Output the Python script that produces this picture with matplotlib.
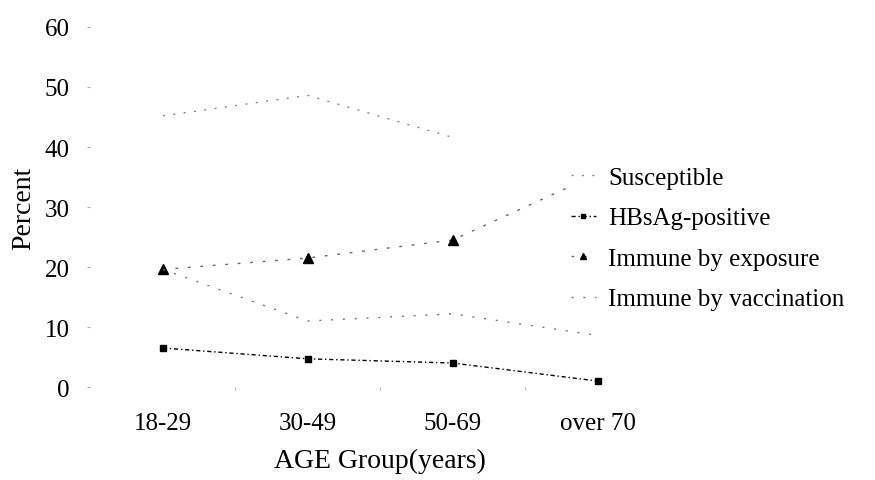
import matplotlib.pyplot as plt
import numpy as np

# values (percent)
age_groups = ['18-29', '30-49', '50-69', 'over 70']
susceptible = [45.2, 48.6, 41.6, np.nan]
hbsag_positive = [6.5, 4.7, 4.0, 1.0]
immune_exposure = [19.6, 21.5, 24.5, 35.5]
immune_vaccination = [19.6, 11.0, 12.2, 8.6]

plt.rcParams['font.family'] = ['Liberation Serif', 'DejaVu Serif']

fig = plt.figure(figsize=(8.75, 4.81), dpi=100)
ax = fig.add_axes([0.1034, 0.1933, 0.6623, 0.7485])

x = np.arange(len(age_groups))

ax.plot(x, susceptible, color='#888888', lw=1.0, linestyle=(0, (1.5, 6)),
        label='Susceptible')
ax.plot(x, hbsag_positive, color='black', lw=1.0, linestyle=(0, (3, 2, 1, 2)),
        marker='s', markersize=4, label='HBsAg-positive')
ax.plot(x, immune_exposure, color='#666666', lw=1.0, linestyle=(0, (2, 7)),
        marker='^', markersize=7, markerfacecolor='black',
        markeredgecolor='black', label='Immune by exposure')
ax.plot(x, immune_vaccination, color='#777777', lw=1.0, linestyle=(0, (1.5, 7)),
        label='Immune by vaccination')

ax.set_xlim(-0.5, 3.5)
ax.set_ylim(0, 60)
ax.set_yticks(range(0, 61, 10))
ax.set_xticks(x)
ax.set_xticklabels(age_groups)
ax.set_xticks([0.5, 1.5, 2.5], minor=True)

for side in ['top', 'right', 'left', 'bottom']:
    ax.spines[side].set_visible(False)

ax.tick_params(axis='y', length=2, color='#aaaaaa', labelsize=18, pad=13)
ax.tick_params(axis='x', which='major', length=0, labelsize=18, pad=18)
ax.tick_params(axis='x', which='minor', length=2, color='#aaaaaa')

ax.set_ylabel('Percent', fontsize=20, labelpad=6)
ax.set_xlabel('AGE Group(years)', fontsize=20, labelpad=10)

leg = fig.legend(loc='upper left', bbox_to_anchor=(568 / 875, 1 - 165 / 481),
                 fontsize=18, frameon=True, framealpha=1, handlelength=1.0,
                 handletextpad=0.5, labelspacing=0.72, borderaxespad=0,
                 borderpad=0.1, markerscale=0.7)
leg.get_frame().set_facecolor('white')
leg.get_frame().set_edgecolor('none')

fig.savefig('out.png', dpi=100)
